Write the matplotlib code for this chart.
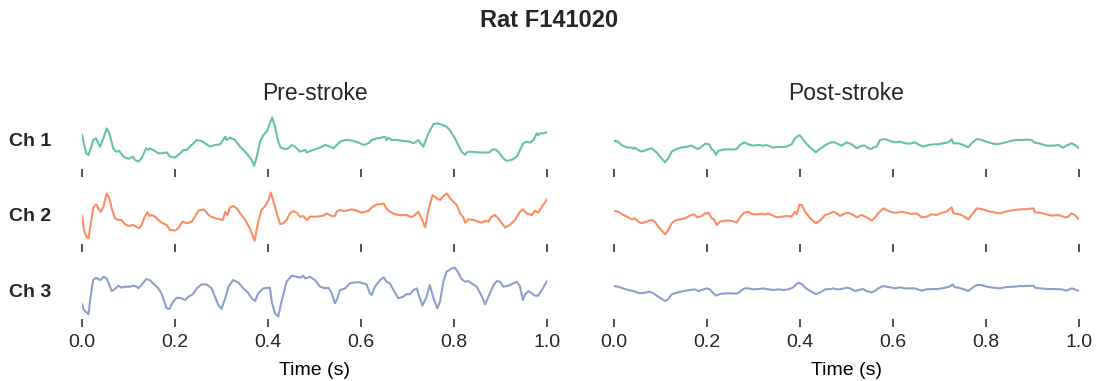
import numpy as np
import matplotlib
matplotlib.use("Agg")
import matplotlib.pyplot as plt

plt.rcParams['font.family'] = ['Liberation Sans', 'DejaVu Sans']
plt.rcParams['text.color'] = '.15'
plt.rcParams['xtick.color'] = '.15'

# ---- traces (time in s, signal in mV) ----
t_pre_ch1 = [0.000, 0.009, 0.014, 0.019, 0.024, 0.030, 0.035, 0.039, 0.046, 0.053, 0.059, 0.067, 0.073, 0.080,
             0.089, 0.100, 0.109, 0.114, 0.121, 0.128, 0.138, 0.143, 0.146, 0.157, 0.164, 0.175, 0.182, 0.189,
             0.200, 0.211, 0.218, 0.225, 0.236, 0.247, 0.257, 0.268, 0.275, 0.286, 0.297, 0.308, 0.311, 0.318,
             0.329, 0.340, 0.354, 0.365, 0.370, 0.376, 0.383, 0.390, 0.397, 0.404, 0.409, 0.415, 0.422, 0.427,
             0.437, 0.444, 0.451, 0.458, 0.469, 0.480, 0.483, 0.497, 0.512, 0.523, 0.533, 0.541, 0.555, 0.569,
             0.584, 0.598, 0.605, 0.616, 0.623, 0.634, 0.644, 0.652, 0.655, 0.659, 0.666, 0.677, 0.691, 0.705,
             0.713, 0.723, 0.734, 0.745, 0.756, 0.763, 0.773, 0.784, 0.791, 0.802, 0.809, 0.816, 0.824, 0.827,
             0.834, 0.849, 0.863, 0.877, 0.881, 0.888, 0.895, 0.906, 0.913, 0.924, 0.935, 0.942, 0.949, 0.956,
             0.963, 0.971, 0.978, 0.981, 0.985, 0.992, 1.000]
v_pre_ch1 = [0.30, -0.25, -0.30, -0.10, 0.15, 0.20, 0.05, -0.05, 0.20, 0.50, 0.35, -0.10, -0.20, -0.18,
             -0.35, -0.42, -0.35, -0.45, -0.50, -0.40, -0.10, -0.15, -0.10, -0.18, -0.25, -0.25, -0.22, -0.35,
             -0.38, -0.25, -0.15, -0.15, 0.00, 0.15, 0.12, 0.02, -0.05, 0.00, 0.02, 0.25, 0.15, 0.22,
             0.15, -0.05, -0.25, -0.45, -0.63, -0.35, 0.10, 0.30, 0.40, 0.65, 0.83, 0.55, 0.10, -0.08,
             -0.12, -0.10, 0.00, -0.05, -0.20, -0.15, -0.23, -0.15, -0.08, 0.00, -0.05, -0.10, 0.10, 0.16,
             0.12, 0.05, 0.00, 0.05, 0.15, 0.20, 0.22, 0.25, 0.15, 0.22, 0.15, 0.15, 0.12, 0.10,
             0.05, 0.15, -0.05, 0.35, 0.63, 0.65, 0.62, 0.55, 0.45, 0.20, 0.00, -0.20, -0.30, -0.22,
             -0.20, -0.22, -0.23, -0.22, -0.15, -0.13, -0.20, -0.40, -0.48, -0.45, -0.35, -0.15, 0.05, 0.10,
             0.07, 0.15, 0.35, 0.30, 0.35, 0.35, 0.38]

t_pre_ch2 = [0.000, 0.004, 0.009, 0.014, 0.019, 0.024, 0.028, 0.032, 0.035, 0.040, 0.046, 0.053, 0.059, 0.064,
             0.071, 0.078, 0.085, 0.092, 0.100, 0.110, 0.116, 0.123, 0.128, 0.135, 0.141, 0.145, 0.150, 0.157,
             0.164, 0.171, 0.182, 0.189, 0.200, 0.207, 0.216, 0.225, 0.236, 0.243, 0.250, 0.261, 0.268, 0.275,
             0.286, 0.297, 0.303, 0.308, 0.313, 0.318, 0.325, 0.333, 0.340, 0.351, 0.361, 0.371, 0.379, 0.386,
             0.394, 0.401, 0.406, 0.411, 0.419, 0.426, 0.433, 0.440, 0.447, 0.454, 0.462, 0.469, 0.476, 0.480,
             0.485, 0.490, 0.505, 0.519, 0.526, 0.537, 0.544, 0.548, 0.555, 0.562, 0.569, 0.580, 0.591, 0.601,
             0.609, 0.616, 0.623, 0.634, 0.644, 0.649, 0.654, 0.662, 0.673, 0.684, 0.698, 0.709, 0.716, 0.723,
             0.730, 0.738, 0.745, 0.754, 0.763, 0.770, 0.777, 0.784, 0.795, 0.806, 0.813, 0.820, 0.824, 0.831,
             0.842, 0.852, 0.860, 0.867, 0.874, 0.879, 0.888, 0.895, 0.903, 0.910, 0.920, 0.931, 0.942, 0.949,
             0.956, 0.967, 0.974, 0.981, 0.989, 1.000]
v_pre_ch2 = [0.12, -0.30, -0.50, -0.55, -0.10, 0.35, 0.45, 0.45, 0.35, 0.25, 0.40, 0.80, 0.65, 0.35,
             0.05, 0.00, 0.00, -0.12, -0.18, -0.15, -0.20, -0.25, -0.15, 0.10, 0.23, 0.12, 0.15, 0.10,
             0.00, -0.08, -0.15, -0.30, -0.32, -0.25, -0.05, -0.10, -0.05, 0.10, 0.28, 0.32, 0.22, 0.12,
             0.05, 0.02, 0.00, 0.25, 0.15, 0.38, 0.42, 0.35, 0.20, 0.00, -0.25, -0.63, -0.05, 0.30,
             0.42, 0.60, 0.83, 0.60, 0.20, -0.12, -0.10, 0.00, 0.20, 0.27, 0.22, 0.10, 0.12, 0.05,
             0.00, 0.10, 0.10, 0.13, 0.20, 0.12, 0.12, 0.25, 0.30, 0.27, 0.28, 0.32, 0.28, 0.22,
             0.25, 0.27, 0.38, 0.47, 0.48, 0.50, 0.35, 0.25, 0.17, 0.15, 0.15, 0.08, 0.15, 0.25,
             0.05, -0.22, 0.30, 0.75, 0.65, 0.60, 0.72, 0.80, 0.60, 0.45, 0.20, 0.08, -0.08, 0.02,
             0.00, -0.05, -0.08, -0.02, -0.05, 0.08, 0.15, 0.05, -0.10, -0.23, -0.15, 0.00, 0.25, 0.32,
             0.20, 0.15, 0.28, 0.22, 0.40, 0.62]

t_pre_ch3 = [0.000, 0.004, 0.009, 0.014, 0.019, 0.024, 0.030, 0.035, 0.040, 0.046, 0.053, 0.059, 0.064, 0.071,
             0.078, 0.085, 0.092, 0.103, 0.110, 0.118, 0.121, 0.128, 0.138, 0.146, 0.153, 0.164, 0.171, 0.176,
             0.182, 0.188, 0.196, 0.204, 0.214, 0.222, 0.229, 0.238, 0.247, 0.257, 0.268, 0.279, 0.286, 0.293,
             0.300, 0.308, 0.315, 0.325, 0.336, 0.347, 0.358, 0.365, 0.372, 0.379, 0.390, 0.404, 0.408, 0.415,
             0.422, 0.429, 0.440, 0.451, 0.462, 0.469, 0.476, 0.480, 0.490, 0.501, 0.512, 0.523, 0.530, 0.537,
             0.544, 0.548, 0.555, 0.566, 0.576, 0.587, 0.598, 0.605, 0.612, 0.619, 0.623, 0.630, 0.641, 0.649,
             0.655, 0.662, 0.670, 0.680, 0.691, 0.698, 0.705, 0.713, 0.720, 0.723, 0.732, 0.740, 0.748, 0.756,
             0.764, 0.770, 0.777, 0.784, 0.795, 0.802, 0.809, 0.816, 0.824, 0.831, 0.838, 0.849, 0.860, 0.867,
             0.874, 0.885, 0.892, 0.899, 0.906, 0.917, 0.928, 0.935, 0.942, 0.948, 0.953, 0.960, 0.967, 0.974,
             0.981, 0.989, 1.000]
v_pre_ch3 = [-0.28, -0.45, -0.52, -0.58, 0.00, 0.45, 0.52, 0.48, 0.45, 0.55, 0.50, 0.30, 0.12, 0.18,
             0.28, 0.22, 0.25, 0.25, 0.28, 0.25, 0.20, 0.30, 0.48, 0.45, 0.35, 0.20, 0.05, -0.15,
             -0.40, -0.42, -0.20, -0.08, -0.10, -0.15, -0.05, 0.02, 0.20, 0.32, 0.32, 0.20, -0.05, -0.30,
             -0.42, -0.10, 0.25, 0.45, 0.38, 0.20, 0.05, -0.10, -0.18, 0.05, 0.20, 0.22, -0.20, -0.55,
             -0.65, -0.20, 0.40, 0.58, 0.55, 0.52, 0.58, 0.50, 0.55, 0.45, 0.25, 0.20, 0.22, 0.05,
             -0.25, -0.15, 0.15, 0.20, 0.35, 0.38, 0.38, 0.35, 0.32, 0.05, 0.00, 0.25, 0.45, 0.53,
             0.40, 0.35, 0.15, -0.10, -0.05, 0.03, 0.02, 0.15, 0.20, 0.05, -0.32, -0.10, 0.30, -0.10,
             -0.40, -0.20, 0.40, 0.70, 0.80, 0.82, 0.68, 0.48, 0.40, 0.42, 0.35, 0.25, -0.05, -0.28,
             -0.05, 0.30, 0.42, 0.40, 0.25, 0.28, 0.35, 0.40, 0.25, -0.15, 0.02, 0.12, 0.05, -0.02,
             -0.02, 0.15, 0.42]

t_post_ch1 = [0.000, 0.009, 0.016, 0.027, 0.038, 0.042, 0.045, 0.052, 0.059, 0.070, 0.081, 0.092, 0.099, 0.110,
              0.117, 0.124, 0.135, 0.146, 0.156, 0.167, 0.174, 0.181, 0.189, 0.196, 0.205, 0.210, 0.215, 0.219,
              0.224, 0.235, 0.246, 0.257, 0.264, 0.271, 0.280, 0.289, 0.300, 0.310, 0.321, 0.328, 0.335, 0.343,
              0.350, 0.361, 0.371, 0.382, 0.389, 0.399, 0.404, 0.411, 0.422, 0.434, 0.443, 0.450, 0.457, 0.468,
              0.475, 0.482, 0.490, 0.500, 0.511, 0.522, 0.533, 0.540, 0.547, 0.554, 0.558, 0.565, 0.572, 0.583,
              0.594, 0.604, 0.615, 0.626, 0.637, 0.647, 0.654, 0.665, 0.676, 0.687, 0.697, 0.708, 0.719, 0.726,
              0.730, 0.741, 0.751, 0.762, 0.769, 0.780, 0.791, 0.801, 0.812, 0.823, 0.834, 0.848, 0.859, 0.866,
              0.877, 0.887, 0.898, 0.905, 0.916, 0.930, 0.945, 0.956, 0.966, 0.973, 0.984, 0.991, 1.000]
v_post_ch1 = [0.13, 0.10, 0.00, -0.07, -0.08, -0.12, -0.08, -0.15, -0.20, -0.15, -0.10, -0.23, -0.35, -0.52,
              -0.40, -0.20, -0.12, -0.07, -0.06, -0.02, -0.08, -0.12, -0.05, 0.04, 0.02, -0.12, -0.18, -0.30,
              -0.18, -0.14, -0.13, -0.14, -0.12, 0.00, 0.08, 0.02, -0.02, 0.00, -0.02, 0.00, -0.04, -0.08,
              -0.06, -0.06, -0.05, 0.02, 0.20, 0.30, 0.22, 0.08, -0.08, -0.22, -0.12, -0.05, 0.02, 0.08,
              0.08, 0.03, -0.02, 0.08, 0.02, -0.10, -0.02, -0.02, -0.10, -0.12, -0.07, -0.05, 0.15, 0.18,
              0.12, 0.08, 0.10, 0.05, 0.04, 0.08, 0.02, -0.05, 0.00, 0.02, 0.02, 0.05, 0.08, 0.17,
              0.05, 0.05, 0.00, -0.07, 0.05, 0.18, 0.15, 0.10, 0.05, 0.02, 0.05, 0.10, 0.14, 0.15,
              0.15, 0.16, 0.15, 0.07, 0.04, -0.02, -0.02, 0.00, -0.08, -0.02, 0.05, 0.00, -0.10]

t_post_ch2 = [0.000, 0.009, 0.020, 0.031, 0.038, 0.045, 0.052, 0.059, 0.070, 0.081, 0.088, 0.095, 0.103, 0.110,
              0.117, 0.124, 0.131, 0.142, 0.153, 0.163, 0.172, 0.179, 0.189, 0.196, 0.203, 0.210, 0.215, 0.221,
              0.228, 0.239, 0.249, 0.257, 0.264, 0.271, 0.280, 0.289, 0.296, 0.307, 0.318, 0.325, 0.332, 0.339,
              0.350, 0.361, 0.371, 0.382, 0.389, 0.393, 0.399, 0.404, 0.411, 0.422, 0.434, 0.443, 0.454, 0.465,
              0.472, 0.479, 0.486, 0.497, 0.504, 0.515, 0.522, 0.533, 0.540, 0.547, 0.554, 0.561, 0.568, 0.579,
              0.586, 0.597, 0.608, 0.619, 0.629, 0.640, 0.651, 0.662, 0.672, 0.683, 0.694, 0.705, 0.715, 0.726,
              0.730, 0.741, 0.751, 0.762, 0.769, 0.780, 0.791, 0.801, 0.816, 0.830, 0.841, 0.852, 0.862, 0.873,
              0.887, 0.902, 0.905, 0.916, 0.930, 0.941, 0.956, 0.970, 0.977, 0.984, 0.991, 1.000]
v_post_ch2 = [0.28, 0.25, 0.15, 0.08, 0.02, 0.05, -0.05, -0.10, -0.05, 0.00, -0.05, -0.20, -0.32, -0.43,
              -0.30, -0.10, -0.02, 0.02, 0.05, 0.13, 0.17, 0.08, 0.12, 0.20, 0.22, 0.05, 0.02, -0.15,
              -0.05, -0.02, -0.02, -0.04, -0.08, 0.08, 0.22, 0.25, 0.18, 0.17, 0.19, 0.17, 0.20, 0.15,
              0.08, 0.10, 0.12, 0.10, 0.25, 0.17, 0.47, 0.45, 0.25, 0.05, -0.10, -0.02, 0.15, 0.20,
              0.25, 0.20, 0.12, 0.20, 0.22, 0.15, 0.08, 0.15, 0.10, 0.05, -0.02, 0.07, 0.20, 0.35,
              0.30, 0.23, 0.22, 0.25, 0.22, 0.18, 0.20, 0.08, 0.10, 0.17, 0.15, 0.22, 0.25, 0.38,
              0.20, 0.18, 0.12, 0.02, 0.15, 0.35, 0.33, 0.28, 0.23, 0.20, 0.25, 0.28, 0.30, 0.32,
              0.33, 0.35, 0.23, 0.22, 0.17, 0.13, 0.15, 0.08, 0.10, 0.20, 0.15, 0.02]

t_post_ch3 = [0.000, 0.009, 0.020, 0.031, 0.042, 0.049, 0.056, 0.067, 0.077, 0.085, 0.095, 0.103, 0.110, 0.117,
              0.124, 0.135, 0.149, 0.163, 0.174, 0.181, 0.189, 0.199, 0.206, 0.214, 0.219, 0.228, 0.239, 0.253,
              0.264, 0.271, 0.280, 0.289, 0.300, 0.310, 0.321, 0.332, 0.343, 0.353, 0.364, 0.375, 0.384, 0.389,
              0.396, 0.404, 0.411, 0.422, 0.434, 0.443, 0.454, 0.465, 0.472, 0.479, 0.490, 0.500, 0.508, 0.518,
              0.529, 0.536, 0.543, 0.554, 0.561, 0.568, 0.579, 0.594, 0.604, 0.615, 0.626, 0.637, 0.647, 0.662,
              0.672, 0.683, 0.697, 0.712, 0.723, 0.728, 0.733, 0.741, 0.751, 0.762, 0.769, 0.780, 0.791, 0.801,
              0.816, 0.830, 0.844, 0.859, 0.873, 0.887, 0.902, 0.905, 0.916, 0.934, 0.948, 0.963, 0.973, 0.984,
              0.991, 1.000]
v_post_ch3 = [0.27, 0.25, 0.20, 0.15, 0.12, 0.08, 0.05, 0.07, 0.10, 0.05, -0.05, -0.12, -0.18, -0.12,
              0.02, 0.07, 0.12, 0.15, 0.17, 0.12, 0.15, 0.20, 0.17, 0.05, -0.02, 0.03, 0.05, 0.05,
              0.04, 0.10, 0.20, 0.20, 0.17, 0.18, 0.20, 0.17, 0.15, 0.17, 0.15, 0.17, 0.22, 0.28,
              0.37, 0.33, 0.22, 0.12, 0.03, 0.07, 0.17, 0.18, 0.20, 0.17, 0.18, 0.22, 0.20, 0.12,
              0.16, 0.18, 0.12, 0.08, 0.12, 0.20, 0.27, 0.23, 0.20, 0.23, 0.20, 0.20, 0.20, 0.13,
              0.17, 0.18, 0.18, 0.22, 0.26, 0.32, 0.23, 0.22, 0.18, 0.12, 0.20, 0.30, 0.30, 0.25,
              0.22, 0.20, 0.24, 0.25, 0.27, 0.27, 0.28, 0.22, 0.20, 0.18, 0.18, 0.17, 0.13, 0.20,
              0.17, 0.12]

channels = ["Ch 1", "Ch 2", "Ch 3"]
conditions = ["Pre-stroke", "Post-stroke"]
colors = ["#66c2a5", "#fc8d62", "#8da0cb"]
xticks = [0.0, 0.2, 0.4, 0.6, 0.8, 1.0]

traces = [[(t_pre_ch1, v_pre_ch1), (t_post_ch1, v_post_ch1)],
          [(t_pre_ch2, v_pre_ch2), (t_post_ch2, v_post_ch2)],
          [(t_pre_ch3, v_pre_ch3), (t_post_ch3, v_post_ch3)]]

fig, axes = plt.subplots(3, 2, figsize=(10.99, 3.81), dpi=100, sharex=True, sharey=True)
fig.subplots_adjust(left=0.0746, right=0.9818, bottom=0.1627, top=0.6982, wspace=0.144, hspace=0.389)

for i in range(3):
    for j in range(2):
        ax = axes[i, j]
        t, v = traces[i][j]
        ax.plot(t, v, color=colors[i], lw=1.5)
        for s in ax.spines.values():
            s.set_visible(False)
        ax.set_yticks([])
        ax.set_xticks(xticks)
        ax.tick_params(axis='x', length=6, width=1.1, labelsize=14, pad=5, direction='out')
        if i == 0:
            ax.set_title(conditions[j], fontsize=16.5, pad=11)
        if i == 2:
            ax.set_xlabel("Time (s)", fontsize=14, labelpad=8)
    pos = axes[i, 0].get_position()
    fig.text(9 / 1099, (pos.y0 + pos.y1) / 2, channels[i], ha='left', va='center',
             fontsize=14, fontweight='bold')

axes[0, 0].set_xlim(0.0, 1.0)
fig.suptitle("Rat F141020", fontsize=17, fontweight='bold', y=(381 - 27) / 381, va='baseline')

plt.savefig("out.png", dpi=100)
